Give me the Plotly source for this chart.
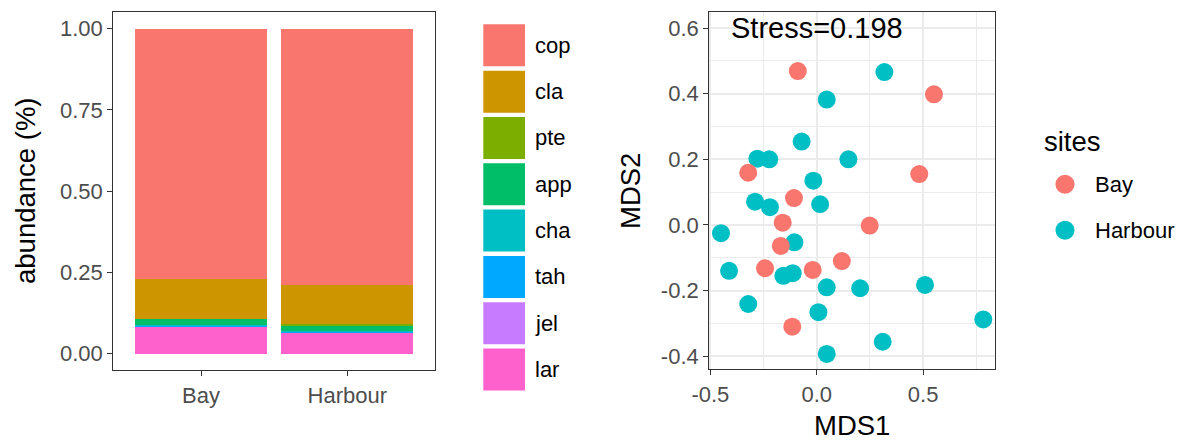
import plotly.graph_objects as go

# ---- stacked abundance by site ----
sites = ["Bay", "Harbour"]
taxa = ["cop", "cla", "pte", "app", "cha", "tah", "jel", "lar"]
taxa_colors = ["#F8766D", "#CD9600", "#7CAE00", "#00BE67",
               "#00BFC4", "#00A9FF", "#C77CFF", "#FF61CC"]
cop = [0.769, 0.788]
cla = [0.123, 0.121]
pte = [0.001, 0.007]
app = [0.018, 0.015]
cha = [0.002, 0.002]
tah = [0.003, 0.003]
jel = [0.001, 0.000]
lar = [0.083, 0.064]
abundance = {"cop": cop, "cla": cla, "pte": pte, "app": app,
             "cha": cha, "tah": tah, "jel": jel, "lar": lar}
bar_ticks = [0, 0.25, 0.5, 0.75, 1.0]
bar_ticktext = ["0.00", "0.25", "0.50", "0.75", "1.00"]

# ---- NMDS ordination ----
bay_x = [-0.089, 0.551, -0.322, 0.482, -0.107, -0.160, 0.249, -0.169,
         -0.243, -0.019, 0.118, -0.115]
bay_y = [0.469, 0.398, 0.159, 0.155, 0.082, 0.007, -0.002, -0.064,
         -0.132, -0.137, -0.110, -0.310]
harbour_x = [0.318, 0.047, -0.071, -0.279, -0.223, 0.149, -0.016, -0.290,
             -0.220, 0.016, -0.450, -0.105, -0.412, -0.157, -0.113, 0.047,
             0.204, 0.509, 0.783, -0.322, 0.008, 0.310, 0.047]
harbour_y = [0.466, 0.382, 0.254, 0.202, 0.200, 0.200, 0.135, 0.071,
             0.054, 0.063, -0.025, -0.053, -0.140, -0.155, -0.147, -0.190,
             -0.193, -0.183, -0.288, -0.241, -0.266, -0.356, -0.393]
site_colors = {"Bay": "#F8766D", "Harbour": "#00BFC4"}
mds_xticks = [-0.5, 0.0, 0.5]
mds_xticktext = ["-0.5", "0.0", "0.5"]
mds_yticks = [-0.4, -0.2, 0.0, 0.2, 0.4, 0.6]
mds_yticktext = ["-0.4", "-0.2", "0.0", "0.2", "0.4", "0.6"]
stress = 0.198

W, H = 1188, 441
FONT = "Liberation Sans, Arial, sans-serif"
TICK_GREY = "#4D4D4D"
FRAME = "#333333"


def px(x):
    return x / W


def py(y):
    return 1 - y / H


fig = go.Figure()

# bars: ggplot stacks the first level on top, plotly stacks the first trace at the bottom
for name, col in reversed(list(zip(taxa, taxa_colors))):
    fig.add_trace(go.Bar(x=sites, y=abundance[name], name=name,
                         marker=dict(color=col, line=dict(width=0)),
                         xaxis="x", yaxis="y", showlegend=False))

fig.add_trace(go.Scatter(x=harbour_x, y=harbour_y, mode="markers", name="Harbour",
                         marker=dict(size=18, color=site_colors["Harbour"]),
                         xaxis="x2", yaxis="y2", showlegend=False))
fig.add_trace(go.Scatter(x=bay_x, y=bay_y, mode="markers", name="Bay",
                         marker=dict(size=18, color=site_colors["Bay"]),
                         xaxis="x2", yaxis="y2", showlegend=False))

tickfont = dict(family=FONT, size=22, color=TICK_GREY)
frame = dict(showline=True, mirror=True, linecolor=FRAME, linewidth=1.3,
             ticks="outside", ticklen=5, tickwidth=1.3, tickcolor=FRAME,
             tickfont=tickfont, zeroline=False, automargin=False)

fig.update_layout(
    width=W, height=H,
    margin=dict(l=0, r=0, t=0, b=0, autoexpand=False),
    paper_bgcolor="white", plot_bgcolor="white",
    barmode="stack", bargap=0.1,
    font=dict(family=FONT),
    xaxis=dict(domain=[px(113.3), px(435)], type="category",
               range=[-0.6, 1.6], showgrid=False, **frame),
    yaxis=dict(domain=[py(370), py(12.3)], range=[-0.05, 1.05],
               tickvals=bar_ticks, ticktext=bar_ticktext,
               showgrid=False, **frame),
    xaxis2=dict(domain=[px(709.3), px(995)], range=[-0.505, 0.838],
                tickvals=mds_xticks, ticktext=mds_xticktext,
                showgrid=True, gridcolor="#EBEBEB", gridwidth=1.8,
                minor=dict(tickvals=[-0.25, 0.25, 0.75], showgrid=True,
                           gridcolor="#EBEBEB", gridwidth=1, ticks=""),
                anchor="y2", **frame),
    yaxis2=dict(domain=[py(369.3), py(12.3)], range=[-0.44, 0.648],
                tickvals=mds_yticks, ticktext=mds_yticktext,
                showgrid=True, gridcolor="#EBEBEB", gridwidth=1.8,
                minor=dict(tickvals=[-0.3, -0.1, 0.1, 0.3, 0.5], showgrid=True,
                           gridcolor="#EBEBEB", gridwidth=1, ticks=""),
                anchor="x2", **frame),
)

title_font = dict(family=FONT, size=27.5, color="black")
label_font = dict(family=FONT, size=22, color="black")
annotations = [
    dict(text="abundance (%)", x=px(25), y=py(191), textangle=-90,
         font=title_font),
    dict(text="MDS2", x=px(630), y=py(191), textangle=-90, font=title_font),
    dict(text="MDS1", x=px(852), y=py(425), font=title_font),
    dict(text=f"Stress={stress}", x=0.0, y=0.6, xref="x2", yref="y2",
         font=dict(family=FONT, size=29, color="black")),
    dict(text="sites", x=px(1042), y=py(141), xanchor="left",
         font=title_font),
]
for a in annotations:
    a.setdefault("xref", "paper")
    a.setdefault("yref", "paper")
    a.setdefault("xanchor", "center")
    a.setdefault("yanchor", "middle")
    a["showarrow"] = False

shapes = []
# fill legend keys
for i, (name, col) in enumerate(zip(taxa, taxa_colors)):
    top = 24.3 + i * 46.33
    shapes.append(dict(type="rect", xref="paper", yref="paper",
                       x0=px(483.3), x1=px(525), y0=py(top + 42), y1=py(top),
                       fillcolor=col, line=dict(width=0)))
    annotations.append(dict(text=name, x=px(533), y=py(top + 21),
                            xref="paper", yref="paper", xanchor="left",
                            yanchor="middle", showarrow=False, font=label_font))

# site legend keys
for i, name in enumerate(["Bay", "Harbour"]):
    cy = 184.3 + i * 46
    shapes.append(dict(type="circle", xref="paper", yref="paper",
                       x0=px(1065 - 9.5), x1=px(1065 + 9.5),
                       y0=py(cy + 9.5), y1=py(cy - 9.5),
                       fillcolor=site_colors[name], line=dict(width=0)))
    annotations.append(dict(text=name, x=px(1093), y=py(cy),
                            xref="paper", yref="paper", xanchor="left",
                            yanchor="middle", showarrow=False, font=label_font))

fig.update_layout(annotations=annotations, shapes=shapes)

fig.write_html("out.html")
